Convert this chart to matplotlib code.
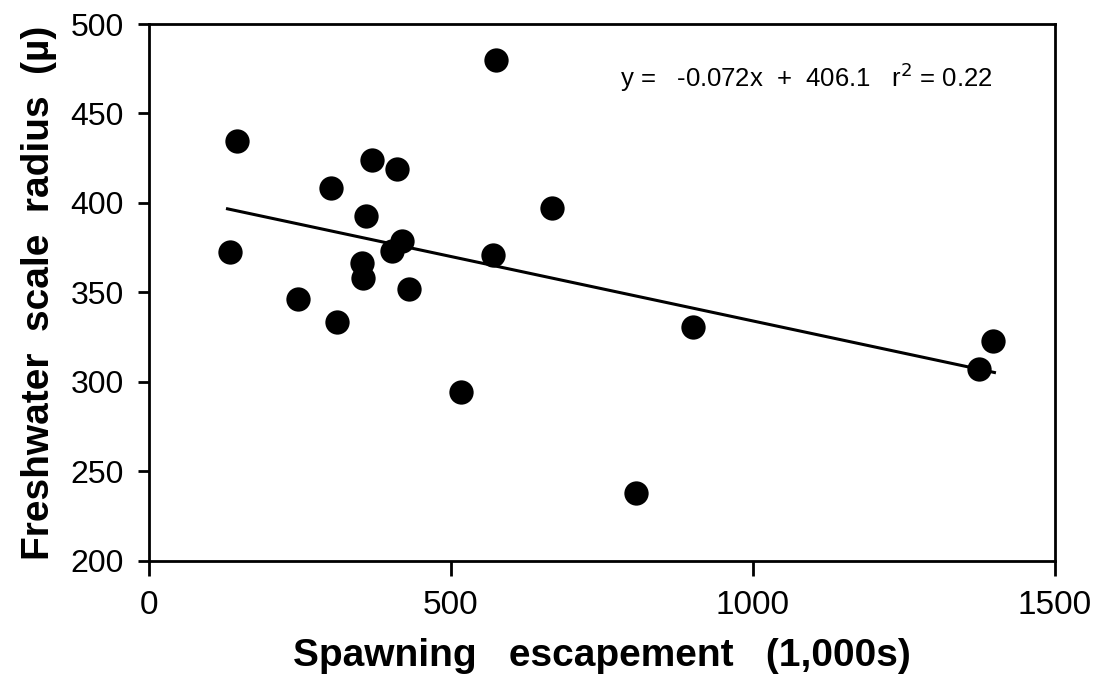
import matplotlib.pyplot as plt
import numpy as np

# Spawning escapement (1,000s) vs freshwater scale radius
escapement = [134, 146, 247, 302, 312, 352, 355, 359, 369, 402, 411,
              419, 430, 517, 570, 574, 667, 806, 901, 1375, 1398]
scale_radius = [372.5, 434.6, 346.5, 408.5, 333.7, 366.3, 358, 392.6, 424,
                373.4, 419, 379, 352, 294.4, 371, 480, 397, 238.2, 330.5,
                307, 323]

slope = -0.072
intercept = 406.1
r2 = 0.22
fit_range = [130, 1400]

x_ticks = [0, 500, 1000, 1500]
y_ticks = [200, 250, 300, 350, 400, 450, 500]

plt.rcParams['font.family'] = ['Liberation Sans', 'DejaVu Sans']

fig = plt.figure(figsize=(11.02, 6.78), dpi=100)
ax = fig.add_axes([0.1352, 0.1726, 0.822, 0.792])

ax.plot(escapement, scale_radius, 'o', color='black', markersize=17.5,
        markeredgewidth=0, zorder=3)

# regression line
fx = np.array(fit_range)
ax.plot(fx, slope * fx + intercept, color='black', linewidth=2.2, zorder=2)

ax.text(780, 470, f'y =   {slope:.3f}x  +  {intercept:.1f}   r$^2$ = {r2:.2f}',
        fontsize=18.5, va='center', ha='left')

ax.set_xlim(0, 1500)
ax.set_ylim(200, 500)
ax.set_xticks(x_ticks)
ax.set_yticks(y_ticks)
ax.set_xticklabels([str(v) for v in x_ticks], fontsize=24)
ax.set_yticklabels([str(v) for v in y_ticks], fontsize=23)
ax.tick_params(axis='x', direction='out', length=11, width=2, pad=10)
ax.tick_params(axis='y', direction='out', length=8, width=2, pad=10)
for s in ax.spines.values():
    s.set_linewidth(2)

ax.set_xlabel('Spawning   escapement   (1,000s)', fontsize=28,
              fontweight='bold', labelpad=12)
ax.set_ylabel('Freshwater  scale  radius  (\u00b5)', fontsize=28,
              fontweight='bold', labelpad=10)

fig.savefig('out.png', dpi=100, facecolor='white')
